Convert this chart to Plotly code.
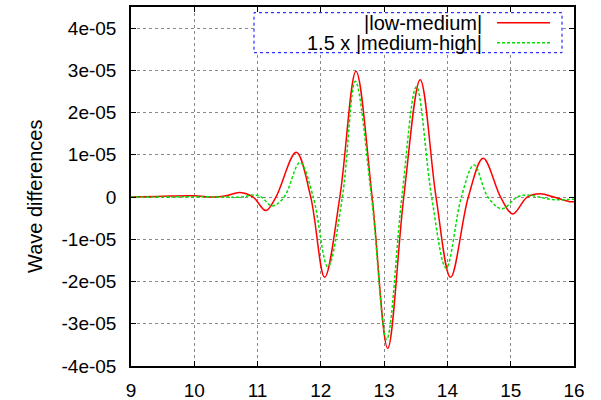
import plotly.graph_objects as go

# Wave difference samples (units of 1e-5): turning points and zero crossings
x_low_med = [9.0, 9.5, 10.0, 10.3, 10.5, 10.72, 10.93, 11.13, 11.29, 11.61, 11.84,
             12.06, 12.30, 12.555, 12.81, 13.056, 13.31, 13.57, 13.82, 14.05, 14.33,
             14.565, 14.84, 15.03, 15.26, 15.47, 15.68, 15.93, 16.0]
y_low_med = [0.0, 0.02, 0.03, 0.0, 0.03, 0.11, 0.0, -0.32, 0.0, 1.06, 0.0,
             -1.90, 0.0, 2.98, 0.0, -3.58, 0.0, 2.78, 0.0, -1.90, 0.0,
             0.92, 0.0, -0.40, 0.0, 0.08, 0.0, -0.11, -0.11]

x_med_high = [9.0, 9.5, 10.0, 10.5, 10.75, 10.93, 11.06, 11.23, 11.42, 11.67, 11.88,
              12.11, 12.34, 12.545, 12.80, 13.04, 13.28, 13.51, 13.75, 13.98, 14.22,
              14.42, 14.64, 14.86, 15.10, 15.26, 15.45, 15.65, 16.0]
y_med_high = [0.0, 0.0, 0.01, 0.0, 0.0, 0.05, 0.0, -0.21, 0.0, 0.82, 0.0,
              -1.65, 0.0, 2.74, 0.0, -3.37, 0.0, 2.61, 0.0, -1.68, 0.0,
              0.76, 0.0, -0.28, 0.0, 0.05, 0.0, -0.06, -0.05]

scale = 1e-5
y_ticks = [-4e-5, -3e-5, -2e-5, -1e-5, 0, 1e-5, 2e-5, 3e-5, 4e-5]
y_tick_text = ["-4e-05", "-3e-05", "-2e-05", "-1e-05", "0",
               "1e-05", "2e-05", "3e-05", "4e-05"]
x_ticks = [9, 10, 11, 12, 13, 14, 15, 16]

series_names = ["|low-medium|", "1.5 x |medium-high|"]
red = "#ff0000"
green = "#00e000"

W, H = 601, 400
L, R, T, B = 131, 574, 7, 366  # plot area in pixels

FONT = "Liberation Sans, Arial, sans-serif"

fig = go.Figure()
fig.add_trace(go.Scatter(x=x_low_med, y=[v * scale for v in y_low_med], mode="lines",
                         line=dict(color=red, width=1.5, shape="spline", smoothing=1.0),
                         name=series_names[0], showlegend=False))
fig.add_trace(go.Scatter(x=x_med_high, y=[v * scale for v in y_med_high], mode="lines",
                         line=dict(color=green, width=1.5, dash="3px,2px",
                                   shape="spline", smoothing=1.0),
                         name=series_names[1], showlegend=False))

axis_common = dict(showline=True, linecolor="black", linewidth=1.5, mirror="allticks",
                   ticks="inside", ticklen=5, tickcolor="black", tickwidth=1,
                   showgrid=True, gridcolor="#8a8a8a", griddash="dot", gridwidth=1,
                   zeroline=False, automargin=False,
                   tickfont=dict(family=FONT, size=19, color="black"))

fig.update_xaxes(range=[9, 16], tickvals=x_ticks, ticklabelstandoff=6, **axis_common)
fig.update_yaxes(range=[-4e-5, 4.5e-5], tickvals=y_ticks, ticktext=y_tick_text,
                 ticklabelstandoff=9, **axis_common)


def px_x(p):
    return (p - L) / (R - L)


def px_y(p):
    return (B - p) / (B - T)


# key box, drawn gnuplot-style with text on the left and the sample on the right
fig.add_shape(type="rect", xref="paper", yref="paper",
              x0=px_x(254), x1=px_x(562), y0=px_y(52.7), y1=px_y(12.7),
              line=dict(color="#0000ff", width=1, dash="dot"), fillcolor="white",
              layer="above")
rows = [22.7, 42.7]
styles = [dict(color=red, width=1.5), dict(color=green, width=1.5, dash="3px,2px")]
for name, row, st in zip(series_names, rows, styles):
    fig.add_annotation(xref="paper", yref="paper", x=px_x(484), y=px_y(row),
                       text=name, showarrow=False, xanchor="right", yanchor="middle",
                       font=dict(family=FONT, size=20, color="black"))
    fig.add_shape(type="line", xref="paper", yref="paper",
                  x0=px_x(497), x1=px_x(550), y0=px_y(row), y1=px_y(row),
                  line=st, layer="above")

fig.add_annotation(xref="paper", yref="paper", x=px_x(35), y=px_y(197),
                   text="Wave differences", textangle=-90, showarrow=False,
                   xanchor="center", yanchor="middle",
                   font=dict(family=FONT, size=20, color="black"))

fig.update_layout(width=W, height=H, margin=dict(l=L, r=W - R, t=T, b=H - B),
                  plot_bgcolor="white", paper_bgcolor="white", showlegend=False)

fig.write_html("out.html")
